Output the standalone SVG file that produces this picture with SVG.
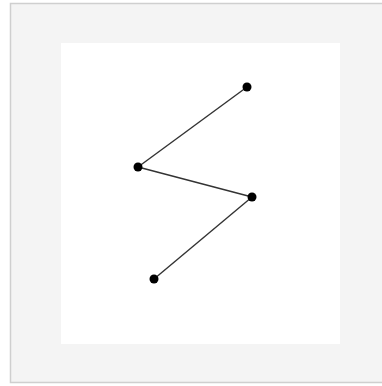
<svg xmlns="http://www.w3.org/2000/svg" width="382" height="386" viewBox="0 0 382 386">
<style>
.edge{stroke:#333;stroke-width:1.4;fill:none}
.dot{fill:#000}
</style>
<rect x="0" y="0" width="382" height="386" fill="#fff"/>
<rect x="10.5" y="3.5" width="375" height="379" fill="#f4f4f4" stroke="#cfcfcf" stroke-width="1.5"/>
<rect x="61" y="43" width="279" height="301" fill="#fff"/>
<g id="connectors">
<line class="edge" x1="247" y1="87" x2="138" y2="167"/>
<line class="edge" x1="138" y1="167" x2="252" y2="197"/>
<line class="edge" x1="252" y1="197" x2="154" y2="279"/>
</g>
<g id="n1"><circle class="dot" cx="247" cy="87" r="4.5"/></g>
<g id="n2"><circle class="dot" cx="138" cy="167" r="4.5"/></g>
<g id="n3"><circle class="dot" cx="252" cy="197" r="4.5"/></g>
<g id="n4"><circle class="dot" cx="154" cy="279" r="4.5"/></g>
</svg>
